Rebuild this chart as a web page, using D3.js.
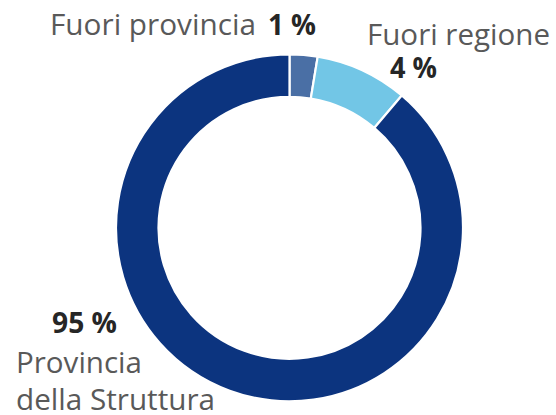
<!DOCTYPE html>
<html>
<head>
<meta charset="utf-8">
<script src="https://cdn.jsdelivr.net/npm/d3@7"></script>
<style>
html,body{margin:0;padding:0;background:#fff;}
svg{display:block;}
</style>
</head>
<body>
<script>
// Data
const categories = ["Fuori provincia", "Fuori regione", "Provincia della Struttura"];
const sliceShares = [2.6, 8.6, 88.8];          // drawn angular shares
const labelValues = ["1 %", "4 %", "95 %"];      // printed percentages
const colors = ["#4a6fa5", "#72c6e6", "#0c347f"];

const W = 556, H = 415;
const cx = 289.5, cy = 227.8, rOuter = 173.5, rInner = 131;

const svg = d3.select("body").append("svg").attr("width", W).attr("height", H);

const pie = d3.pie().sort(null).value(d => d.v).startAngle(0).endAngle(2 * Math.PI);
const arc = d3.arc().innerRadius(rInner).outerRadius(rOuter);
const data = categories.map((c, i) => ({c, v: sliceShares[i], col: colors[i], lab: labelValues[i]}));

svg.append("g").attr("transform", `translate(${cx},${cy})`)
  .selectAll("path").data(pie(data)).join("path")
  .attr("d", arc)
  .attr("fill", d => d.data.col)
  .attr("stroke", "#fff")
  .attr("stroke-width", 2.2)
  .attr("stroke-linejoin", "miter");

const FONT = "'Open Sans', 'DejaVu Sans', sans-serif";
const grey = "#595959", dark = "#262626";

function fit(sel, target) {
  const n = sel.node();
  const len = n.getComputedTextLength();
  if (Math.abs(len - target) > 1) sel.attr("textLength", target).attr("lengthAdjust", "spacingAndGlyphs");
}

// Fuori provincia 1 %
let t = svg.append("text").attr("x", 50).attr("y", 35)
  .attr("font-family", FONT).attr("font-size", 29).attr("fill", grey).text(data[0].c);
fit(t, 206);
t = svg.append("text").attr("x", 268).attr("y", 35)
  .attr("font-family", FONT).attr("font-size", 29).attr("font-weight", "bold").attr("fill", dark).text(data[0].lab);
fit(t, 48);

// Fuori regione 4 %
t = svg.append("text").attr("x", 367).attr("y", 45)
  .attr("font-family", FONT).attr("font-size", 29).attr("fill", grey).text(data[1].c);
fit(t, 183);
t = svg.append("text").attr("x", 390).attr("y", 78)
  .attr("font-family", FONT).attr("font-size", 29).attr("font-weight", "bold").attr("fill", dark).text(data[1].lab);
fit(t, 47);

// 95 % Provincia della Struttura
t = svg.append("text").attr("x", 52).attr("y", 333)
  .attr("font-family", FONT).attr("font-size", 29).attr("font-weight", "bold").attr("fill", dark).text(data[2].lab);
fit(t, 65);
const words = data[2].c.split(" ");
const lines = [words[0], words.slice(1).join(" ")];
t = svg.append("text").attr("x", 16).attr("y", 373)
  .attr("font-family", FONT).attr("font-size", 29).attr("fill", grey).text(lines[0]);
fit(t, 126);
t = svg.append("text").attr("x", 16).attr("y", 410)
  .attr("font-family", FONT).attr("font-size", 29).attr("fill", grey).text(lines[1]);
fit(t, 199);
</script>
</body>
</html>
